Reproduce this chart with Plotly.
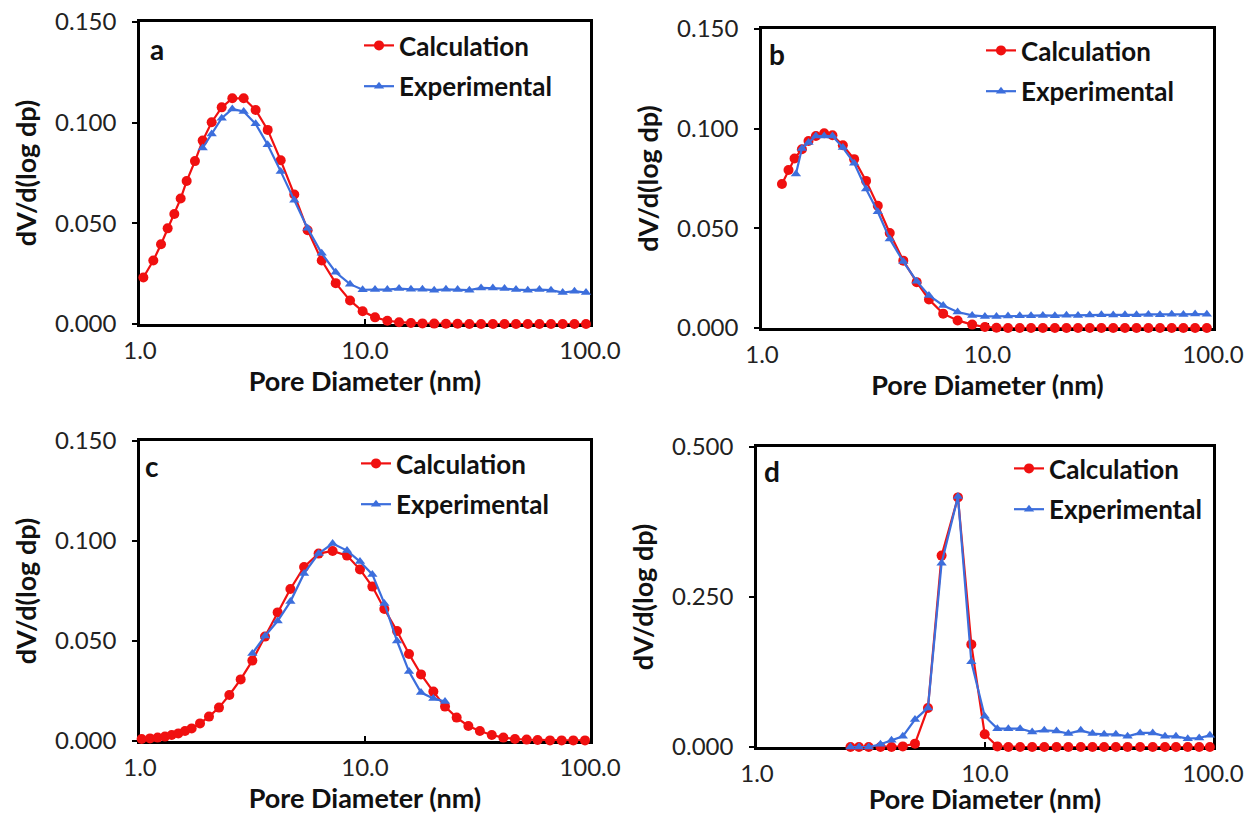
import plotly.graph_objects as go

# ---------------- data ----------------
# panel a
a_calc_x = [1.035, 1.146, 1.240, 1.327, 1.421, 1.516, 1.612, 1.755, 1.899, 2.082,
            2.307, 2.572, 2.889, 3.266, 3.694, 4.22, 4.85, 5.56, 6.42, 7.41,
            8.58, 9.76, 11.08, 12.57, 14.17, 16.0, 18.0, 20.3, 22.9, 25.8,
            29.1, 32.8, 37.0, 41.7, 46.9, 52.9, 59.6, 67.1, 75.6, 85.3, 96.0]
a_calc_y = [0.0231, 0.0315, 0.0396, 0.0475, 0.0546, 0.0623, 0.0710, 0.0809, 0.0911, 0.1002,
            0.1076, 0.1121, 0.1121, 0.1063, 0.0964, 0.0813, 0.0643, 0.0466, 0.0315, 0.0203,
            0.0117, 0.0063, 0.0033, 0.0016, 0.0009, 0.0005, 0.0003, 0.0002, 0.0001, 0.0001,
            0, 0, 0, 0, 0, 0, 0, 0, 0, 0, 0]
a_exp_x = [1.899, 2.082, 2.307, 2.572, 2.889, 3.266, 3.694, 4.22, 4.85, 5.56,
           6.42, 7.41, 8.58, 9.76, 11.08, 12.57, 14.17, 16.0, 18.0, 20.3,
           22.9, 25.8, 29.1, 32.8, 37.0, 41.7, 46.9, 52.9, 59.6, 67.1,
           75.6, 85.3, 96.0]
a_exp_y = [0.0874, 0.0944, 0.1022, 0.1068, 0.1055, 0.0994, 0.0890, 0.0758, 0.0615, 0.0475,
           0.0351, 0.0257, 0.0198, 0.0170, 0.0171, 0.0171, 0.0176, 0.0172, 0.0172, 0.0168,
           0.0172, 0.0171, 0.0168, 0.0179, 0.0179, 0.0176, 0.0171, 0.0168, 0.0171, 0.0168,
           0.0156, 0.0163, 0.0156]

# panel b
b_calc_x = [1.226, 1.311, 1.394, 1.503, 1.608, 1.734, 1.887, 2.053, 2.283, 2.562,
            2.894, 3.262, 3.685, 4.232, 4.851, 5.50, 6.36, 7.37, 8.55, 9.74,
            10.96, 12.33, 13.9, 15.6, 17.6, 19.9, 22.4, 25.2, 28.4, 32.0,
            36.1, 40.7, 45.8, 51.7, 58.2, 65.6, 73.9, 83.3, 93.9]
b_calc_y = [0.0722, 0.0793, 0.0850, 0.0897, 0.0938, 0.0963, 0.0977, 0.0967, 0.0917, 0.0847,
            0.0738, 0.0613, 0.0477, 0.0338, 0.0230, 0.0143, 0.0072, 0.0038, 0.0017, 0.0005,
            0.0001, 0, 0, 0, 0, 0, 0, 0, 0, 0,
            0, 0, 0, 0, 0, 0, 0, 0, 0]
b_exp_x = [1.414, 1.503, 1.608, 1.734, 1.887, 2.053, 2.283, 2.562, 2.894, 3.262,
           3.685, 4.232, 4.851, 5.50, 6.36, 7.37, 8.55, 9.74, 10.96, 12.33,
           13.9, 15.6, 17.6, 19.9, 22.4, 25.2, 28.4, 32.0, 36.1, 40.7,
           45.8, 51.7, 58.2, 65.6, 73.9, 83.3, 93.9]
b_exp_y = [0.0772, 0.0900, 0.0930, 0.0963, 0.0963, 0.0963, 0.0905, 0.0827, 0.0697, 0.0583,
           0.0447, 0.0333, 0.0235, 0.0163, 0.0113, 0.0080, 0.0063, 0.0058, 0.0058, 0.0060,
           0.0062, 0.0061, 0.0063, 0.0062, 0.0064, 0.0063, 0.0065, 0.0066, 0.0065, 0.0067,
           0.0066, 0.0068, 0.0067, 0.0069, 0.0068, 0.0070, 0.0069]

# panel c
c_calc_x = [1.017, 1.108, 1.198, 1.291, 1.383, 1.480, 1.585, 1.697, 1.848, 2.026,
            2.244, 2.495, 2.802, 3.157, 3.594, 4.09, 4.66, 5.36, 6.22, 7.18,
            8.32, 9.50, 10.78, 12.19, 13.88, 15.69, 17.74, 20.13, 22.68, 25.55,
            28.8, 32.4, 36.6, 41.2, 46.4, 52.3, 58.5, 66.4, 74.8, 84.3, 95.0]
c_calc_y = [0.0010, 0.0013, 0.0017, 0.0022, 0.0030, 0.0038, 0.0050, 0.0063, 0.0088, 0.0122,
            0.0167, 0.0230, 0.0308, 0.0402, 0.0522, 0.0643, 0.0760, 0.0870, 0.0937, 0.0950,
            0.0927, 0.0858, 0.0772, 0.0660, 0.0550, 0.0435, 0.0333, 0.0247, 0.0172, 0.0117,
            0.0075, 0.0050, 0.0030, 0.0017, 0.0010, 0.0007, 0.0005, 0.0003, 0.0003, 0.0003, 0.0003]
c_exp_x = [3.157, 3.594, 4.09, 4.66, 5.36, 6.22, 7.18, 8.32, 9.50, 10.78,
           12.19, 13.88, 15.69, 17.74, 20.13, 22.68]
c_exp_y = [0.0438, 0.0525, 0.0600, 0.0697, 0.0838, 0.0937, 0.0987, 0.0952, 0.0897, 0.0833,
           0.0688, 0.0500, 0.0347, 0.0242, 0.0213, 0.0197]

# panel d
d_calc_x = [2.57, 2.80, 3.09, 3.48, 3.89, 4.36, 4.93, 5.62, 6.45, 7.61,
            8.71, 9.97, 11.33, 12.66, 14.26, 16.1, 18.2, 20.6, 23.2, 26.3,
            29.6, 33.3, 37.5, 42.2, 47.9, 54.4, 61.6, 68.8, 77.5, 87.0, 96.9]
d_calc_y = [0, 0, 0, 0, 0, 0.0010, 0.0056, 0.0651, 0.3190, 0.4160,
            0.1710, 0.0212, 0.0010, 0, 0, 0, 0, 0, 0, 0,
            0, 0, 0, 0, 0, 0, 0, 0, 0, 0, 0]
d_exp_x = [2.57, 2.80, 3.09, 3.48, 3.89, 4.36, 4.93, 5.62, 6.45, 7.61,
           8.71, 9.97, 11.33, 12.66, 14.26, 16.1, 18.2, 20.6, 23.2, 26.3,
           29.6, 33.3, 37.5, 42.2, 47.9, 54.4, 61.6, 68.8, 77.5, 87.0, 96.9]
d_exp_y = [0, 0, 0, 0.0045, 0.0111, 0.0178, 0.0457, 0.0651, 0.3063, 0.4176,
           0.1419, 0.0512, 0.0306, 0.0306, 0.0306, 0.0250, 0.0278, 0.0267, 0.0223, 0.0278,
           0.0223, 0.0212, 0.0212, 0.0178, 0.0234, 0.0234, 0.0178, 0.0178, 0.0139, 0.0150, 0.0195]

x_tickvals = [1, 10, 100]
x_ticktext = ["1.0", "10.0", "100.0"]
series_names = ["Calculation", "Experimental"]
panel_letters = ["a", "b", "c", "d"]

# ---------------- styling ----------------
W, H = 1246, 815
FONT = "Lato"
RED = "#F01010"
BLUE = "#3C6EDC"

panels = [
    dict(cx=a_calc_x, cy=a_calc_y, ex=a_exp_x, ey=a_exp_y, ymax=0.15, dtick=0.05,
         box=(140, 590, 22, 324), leg=(359, 22), letter=(157, 49)),
    dict(cx=b_calc_x, cy=b_calc_y, ex=b_exp_x, ey=b_exp_y, ymax=0.15, dtick=0.05,
         box=(762, 1213, 29, 328), leg=(981, 27), letter=(777, 54)),
    dict(cx=c_calc_x, cy=c_calc_y, ex=c_exp_x, ey=c_exp_y, ymax=0.15, dtick=0.05,
         box=(140, 590, 441, 741), leg=(356, 440), letter=(152, 466)),
    dict(cx=d_calc_x, cy=d_calc_y, ex=d_exp_x, ey=d_exp_y, ymax=0.5, dtick=0.25,
         box=(757, 1213, 447, 747), leg=(1009, 445), letter=(772, 471)),
]

fig = go.Figure()
layout = dict(
    width=W, height=H, margin=dict(l=0, r=0, t=0, b=0, autoexpand=False),
    paper_bgcolor="white", plot_bgcolor="white",
    font=dict(family=FONT, color="#111111"),
    annotations=[],
)

for i, p in enumerate(panels):
    n = "" if i == 0 else str(i + 1)
    xa, ya = "x" + n, "y" + n
    leg = "legend" + n
    fig.add_trace(go.Scatter(
        x=p["cx"], y=p["cy"], xaxis=xa, yaxis=ya, name=series_names[0],
        mode="lines+markers", line=dict(color=RED, width=2.2),
        marker=dict(symbol="circle", size=10, color=RED),
        legend=leg, legendgroup="c" + n, cliponaxis=False))
    fig.add_trace(go.Scatter(
        x=p["ex"], y=p["ey"], xaxis=xa, yaxis=ya, name=series_names[1],
        mode="lines+markers", line=dict(color=BLUE, width=2.2),
        marker=dict(symbol="triangle-up", size=9, color=BLUE),
        legend=leg, legendgroup="e" + n, cliponaxis=False))

    x0, x1, y0, y1 = p["box"]
    axis_common = dict(showline=True, linecolor="black", linewidth=2.5, mirror=True,
                       showgrid=False, zeroline=False, layer="below traces",
                       automargin=False,
                       tickfont=dict(family=FONT, size=24, color="#222222"),
                       tickcolor="black", ticklen=5, tickwidth=1.5)
    layout["xaxis" + n] = dict(
        axis_common, type="log", range=[0, 2], domain=[x0 / W, x1 / W],
        anchor=ya, tickvals=x_tickvals, ticktext=x_ticktext, ticks="inside",
        ticklabelstandoff=3,
        title=dict(text="Pore Diameter (nm)", standoff=3,
                   font=dict(family=FONT, size=27, weight="bold", color="#111111")))
    layout["yaxis" + n] = dict(
        axis_common, range=[0, p["ymax"]], domain=[1 - y1 / H, 1 - y0 / H],
        anchor=xa, dtick=p["dtick"], tick0=0, tickformat=".3f", ticks="outside",
        ticklabelstandoff=11,
        title=dict(text="dV/d(log dp)", standoff=11,
                   font=dict(family=FONT, size=27, weight="bold", color="#111111")))
    lx, ly = p["leg"]
    layout[leg] = dict(
        x=lx / W, y=1 - ly / H, xanchor="left", yanchor="top",
        bgcolor="rgba(0,0,0,0)", borderwidth=0,
        font=dict(family=FONT, size=26, weight="bold", color="#111111"),
        traceorder="grouped", tracegroupgap=4, itemwidth=30)
    tx, ty = p["letter"]
    layout["annotations"].append(dict(
        text=panel_letters[i], x=tx / W, y=1 - ty / H, xref="paper", yref="paper",
        xanchor="center", yanchor="middle", showarrow=False,
        font=dict(family=FONT, size=28, weight="bold", color="#111111")))

fig.update_layout(**layout)
fig.write_html("out.html", config={"displayModeBar": False},
               post_script="document.body.style.margin='0px';")
